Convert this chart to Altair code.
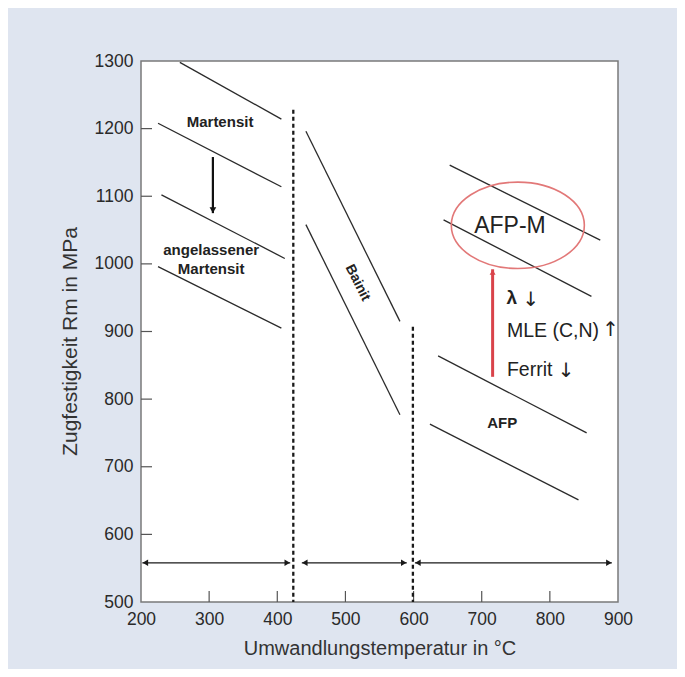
import altair as alt
import pandas as pd

# ---------------- data ----------------
# straight strength lines: start (x1, y1) -> end (x2, y2)
seg_x1 = [257, 225, 230, 225, 442, 442, 653, 644, 636, 624]
seg_y1 = [1298, 1208, 1102, 996, 1196, 1058, 1146, 1065, 864, 763]
seg_x2 = [406, 406, 411, 406, 580, 580, 874, 861, 854, 842]
seg_y2 = [1214, 1114, 1008, 905, 915, 777, 1035, 952, 750, 651]

# dashed range dividers
div_x = [423.5, 599]
div_top = [1228, 907]
div_bottom = [500, 500]

# double-headed range arrows near the bottom
span_x1 = [202, 436, 602]
span_x2 = [419, 590, 891]
span_y = [558, 558, 558]

# single arrows: x, y_from, y_to
arrow_x = [305.5, 716]
arrow_from = [1158, 833]
arrow_to = [1075, 992]
arrow_color = ["#111111", "#d9434a"]

# ellipse around AFP-M
ell_x = [753]
ell_y = [1057]

# texts
lab_text = ["Martensit", "angelassener", "Martensit", "AFP"]
lab_x = [316, 303, 303, 730]
lab_y = [1210, 1021, 993, 765]

x_ticks = [300, 400, 500, 600, 700, 800]
y_ticks = [600, 700, 800, 900, 1000, 1100, 1200]
x_labels = [200, 300, 400, 500, 600, 700, 800, 900]
y_labels = [500, 600, 700, 800, 900, 1000, 1100, 1200, 1300]

W, H = 477, 541
FONT = "Liberation Sans, Arial, sans-serif"

xs = alt.Scale(domain=[200, 900], nice=False, zero=False)
ys = alt.Scale(domain=[500, 1300], nice=False, zero=False)

X_AX = alt.Axis(
    values=x_labels, format="d", ticks=False, domain=False, grid=False,
    labelFontSize=17.5, labelPadding=8, labelColor="#2a2a2a", labelFont=FONT,
    labelFlush=False, labelOverlap=False,
    title="Umwandlungstemperatur in °C", titleFontSize=20, titleFontWeight="normal",
    titleColor="#333333", titleFont=FONT, titleY=46, titleBaseline="middle")
Y_AX = alt.Axis(
    values=y_labels, format="d", ticks=False, domain=False, grid=False,
    labelFontSize=17.5, labelPadding=8, labelColor="#2a2a2a", labelFont=FONT,
    labelOverlap=False,
    title="Zugfestigkeit Rm in MPa", titleFontSize=21, titleFontWeight="normal",
    titleColor="#333333", titleFont=FONT, titleX=-71, titleY=280, titleBaseline="middle")


def X(f):
    return alt.X(f, scale=xs, axis=X_AX)


def Y(f):
    return alt.Y(f, scale=ys, axis=Y_AX)


seg_df = pd.DataFrame({"x1": seg_x1, "y1": seg_y1, "x2": seg_x2, "y2": seg_y2})
segments = alt.Chart(seg_df).mark_rule(color="#2b2b2b", strokeWidth=1.3).encode(
    x=X("x1:Q"), y=Y("y1:Q"), x2="x2:Q", y2="y2:Q")

xt = alt.Chart(pd.DataFrame({"v": x_ticks})).mark_rule(color="#555555", strokeWidth=1.2).encode(
    x=X("v:Q"), y=alt.value(H), y2=alt.value(H - 11))
yt = alt.Chart(pd.DataFrame({"v": y_ticks})).mark_rule(color="#555555", strokeWidth=1.2).encode(
    y=Y("v:Q"), x=alt.value(0), x2=alt.value(11))

div_df = pd.DataFrame({"x": div_x, "t": div_top, "b": div_bottom})
dividers = alt.Chart(div_df).mark_rule(color="#1a1a1a", strokeWidth=2.3, strokeDash=[4, 3]).encode(
    x=X("x:Q"), y=Y("t:Q"), y2="b:Q")

span_df = pd.DataFrame({"x1": span_x1, "x2": span_x2, "y": span_y})
spans = alt.Chart(span_df).mark_rule(color="#1a1a1a", strokeWidth=1.3).encode(
    x=X("x1:Q"), x2="x2:Q", y=Y("y:Q"))
span_l = alt.Chart(span_df).mark_point(shape="triangle-left", filled=True, size=40,
                                       color="#1a1a1a", opacity=1, xOffset=3).encode(
    x=X("x1:Q"), y=Y("y:Q"))
span_r = alt.Chart(span_df).mark_point(shape="triangle-right", filled=True, size=40,
                                       color="#1a1a1a", opacity=1, xOffset=-3).encode(
    x=X("x2:Q"), y=Y("y:Q"))

arr_df = pd.DataFrame({"x": arrow_x, "f": arrow_from, "t": arrow_to, "c": arrow_color,
                       "w": [2.2, 3.0]})
arrows = alt.Chart(arr_df).mark_rule().encode(
    x=X("x:Q"), y=Y("f:Q"), y2="t:Q",
    color=alt.Color("c:N", scale=None), strokeWidth=alt.StrokeWidth("w:Q", scale=None))
heads_down = alt.Chart(arr_df.iloc[[0]]).mark_point(shape="triangle-down", filled=True, size=45,
                                                    opacity=1, yOffset=-3).encode(
    x=X("x:Q"), y=Y("t:Q"), color=alt.Color("c:N", scale=None))
heads_up = alt.Chart(arr_df.iloc[[1]]).mark_point(shape="triangle-up", filled=True, size=35,
                                                  opacity=1, yOffset=3).encode(
    x=X("x:Q"), y=Y("t:Q"), color=alt.Color("c:N", scale=None))

ellipse = alt.Chart(pd.DataFrame({"x": ell_x, "y": ell_y})).mark_point(
    shape="M -1 0 A 1 0.65 0 1 1 1 0 A 1 0.65 0 1 1 -1 0 Z",
    size=17700, filled=False, stroke="#e27878", strokeWidth=1.6, opacity=1).encode(
    x=X("x:Q"), y=Y("y:Q"))

lab_df = pd.DataFrame({"t": lab_text, "x": lab_x, "y": lab_y})
labels = alt.Chart(lab_df).mark_text(font=FONT, fontSize=15, fontWeight="bold", color="#222222",
                                     baseline="middle").encode(
    x=X("x:Q"), y=Y("y:Q"), text="t:N")

bainit = alt.Chart(pd.DataFrame({"t": ["Bainit"], "x": [518], "y": [972]})).mark_text(
    font=FONT, fontSize=14, fontWeight="bold", color="#222222", angle=63, baseline="middle").encode(
    x=X("x:Q"), y=Y("y:Q"), text="t:N")

afpm = alt.Chart(pd.DataFrame({"t": ["AFP-M"], "x": [741.5], "y": [1056]})).mark_text(
    font=FONT, fontSize=23, color="#222222", baseline="middle").encode(
    x=X("x:Q"), y=Y("y:Q"), text="t:N")

lam = alt.Chart(pd.DataFrame({"t": ["λ"], "x": [744], "y": [949]})).mark_text(
    font=FONT, fontSize=19, fontWeight="bold", color="#222222", baseline="middle").encode(
    x=X("x:Q"), y=Y("y:Q"), text="t:N")

notes = alt.Chart(pd.DataFrame({"t": ["MLE (C,N)", "Ferrit"], "x": [737, 737], "y": [901, 843]})).mark_text(
    font=FONT, fontSize=19.5, color="#222222", baseline="middle", align="left").encode(
    x=X("x:Q"), y=Y("y:Q"), text="t:N")

marks = alt.Chart(pd.DataFrame({"t": ["↓", "↑", "↓"], "x": [772, 889, 824], "y": [947, 902, 842]})).mark_text(
    font="DejaVu Sans", fontSize=20, color="#222222", baseline="middle").encode(
    x=X("x:Q"), y=Y("y:Q"), text="t:N")

chart = alt.layer(
    segments, xt, yt, dividers, spans, span_l, span_r, arrows, heads_down, heads_up,
    ellipse, labels, bainit, afpm, lam, notes, marks
).properties(
    width=W, height=H,
    autosize=alt.AutoSizeParams(type="none"),
    padding={"left": 133, "top": 53, "right": 59, "bottom": 67},
    background="#dfe5f0",
).configure_view(
    fill="white", stroke="#7a7a7a", strokeWidth=1.5
)

chart.save("out.html", embed_options={"renderer": "svg", "actions": False})
